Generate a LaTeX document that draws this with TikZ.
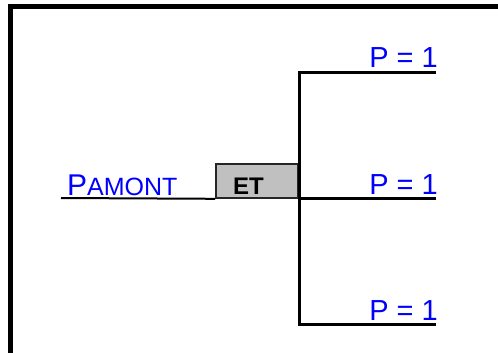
\documentclass[tikz,border=0pt]{standalone}
\usepackage{fontspec}
\setmainfont{Liberation Sans}
\usetikzlibrary{positioning}
\definecolor{lien}{RGB}{0,0,255}
\definecolor{porte}{RGB}{192,192,192}

\begin{document}
\begin{tikzpicture}[x=1pt,y=-1pt,
    proba/.style={text=lien,font=\fontsize{29}{29}\selectfont,inner sep=0pt,anchor=base east},
    branche/.style={line width=3pt,line cap=rect},
    portebox/.style={draw=black!85,fill=porte,line width=1.6pt,minimum width=82pt,minimum height=34pt,inner sep=0pt}]
          \useasboundingbox (0,0) rectangle (498,353);
          % cadre
          \draw[line width=4.5pt] (10.5,353) -- (10.5,6.5) -- (498,6.5);
          % porte ET
          \node[portebox] (et) at (257,181) {};
          \node[anchor=base west,inner sep=0pt,font=\fontsize{24}{24}\selectfont\bfseries] (ettxt) at (233,194) {ET};
          \coordinate (amont) at (61,198);
          \node[anchor=base west,inner sep=0pt,text=lien] (pamont) at (67,195)
               {\fontsize{30}{30}\selectfont P\fontsize{25}{25}\selectfont AMONT};
          \draw[line width=2pt] (amont) -- (et.south west);
          % branches
          \coordinate (haut) at (299,72.5);
          \coordinate (milieu) at (299,198.5);
          \coordinate (bas) at (299,324.5);
          \coordinate (hautfin) at (434,72.5);
          \coordinate (milieufin) at (434,198.5);
          \coordinate (basfin) at (434,324.5);
          \draw[branche,line join=miter] (hautfin) -- (haut) -- (bas) -- (basfin);
          \draw[branche] (milieu) -- (milieufin);
          \node[proba] (p1) at (438,68) {P = 1};
          \node[proba] (p2) at (438,194.5) {P = 1};
          \node[proba] (p3) at (438,320.5) {P = 1};
        \end{tikzpicture}
\end{document}
